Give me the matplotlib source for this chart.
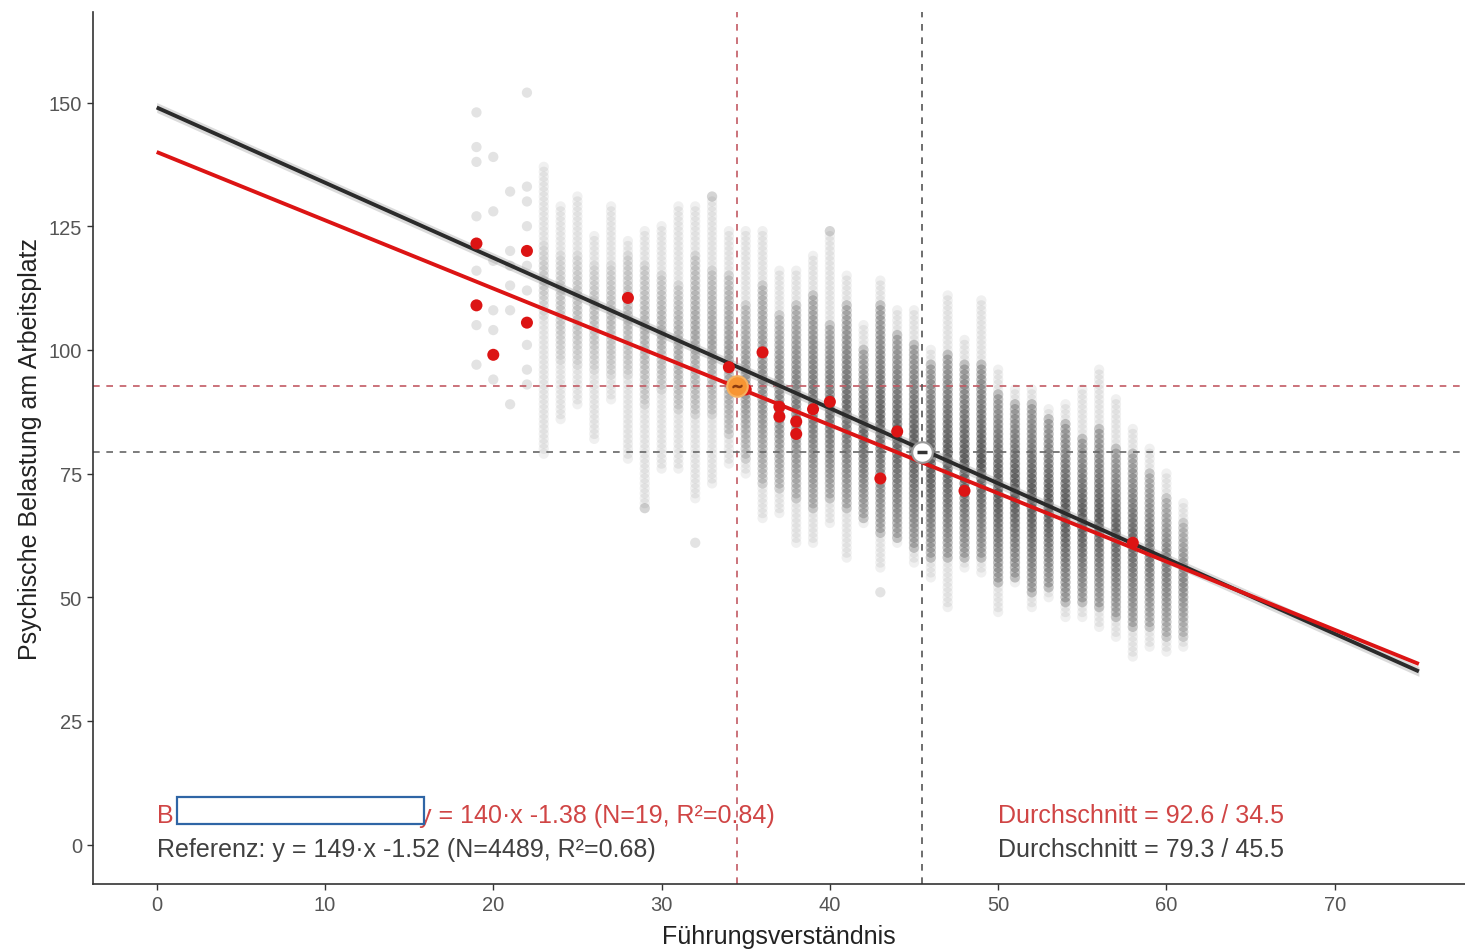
import numpy as np
import matplotlib
matplotlib.use("Agg")
import matplotlib.pyplot as plt
from matplotlib.patches import Rectangle

plt.rcParams['font.family'] = ['Liberation Sans', 'DejaVu Sans']

# ---------------- data ----------------
# reference sample: columns at integer x, read extent (lo..hi) and dense core (core_lo..core_hi)
col_x = [23, 24, 25, 26, 27, 28, 29, 30, 31, 32, 33, 34, 35, 36, 37, 38, 39, 40, 41, 42,
         43, 44, 45, 46, 47, 48, 49, 50, 51, 52, 53, 54, 55, 56, 57, 58, 59, 60, 61]
col_lo = [79, 86, 89, 82, 90, 78, 68, 76, 76, 70, 73, 77, 75, 66, 67, 61, 61, 65, 58, 65,
          56, 61, 57, 54, 48, 56, 55, 47, 53, 48, 50, 46, 46, 44, 42, 38, 40, 39, 40]
col_hi = [137, 129, 131, 123, 129, 122, 124, 125, 129, 129, 131, 124, 124, 124, 116, 116, 119, 124, 115, 105,
          114, 108, 108, 100, 111, 102, 110, 96, 92, 92, 88, 89, 92, 96, 90, 84, 80, 75, 69]
core_lo = [107, 98, 97, 96, 95, 95, 89, 92, 88, 87, 87, 83, 78, 73, 72, 70, 68, 70, 68, 66,
           63, 62, 60, 58, 58, 58, 58, 53, 54, 51, 52, 49, 49, 48, 46, 44, 44, 42, 42]
core_hi = [121, 119, 119, 117, 117, 119, 117, 115, 113, 119, 116, 115, 109, 113, 107, 109, 111, 105, 109, 100,
           109, 103, 101, 97, 99, 97, 97, 91, 89, 89, 86, 85, 82, 84, 80, 79, 75, 70, 65]
core_alpha = [0.06, 0.07, 0.08, 0.08, 0.09, 0.10, 0.11, 0.12, 0.13, 0.14, 0.15, 0.17, 0.19, 0.21, 0.23, 0.25, 0.27, 0.29, 0.30, 0.31,
              0.32, 0.33, 0.34, 0.35, 0.35, 0.35, 0.36, 0.36, 0.36, 0.36, 0.36, 0.36, 0.35, 0.34, 0.33, 0.31, 0.28, 0.25, 0.22]

# sparse reference points (left tail and isolated dots)
sparse_x = [19, 19, 19, 19, 19, 19, 19, 20, 20, 20, 20, 20, 20, 21, 21, 21, 21, 21, 21,
            22, 22, 22, 22, 22, 22, 22, 22, 22, 29, 32, 43, 33, 40]
sparse_y = [148, 141, 138, 127, 116, 105, 97, 139, 128, 118, 108, 104, 94, 132, 120, 117, 113, 108, 89,
            152, 133, 130, 125, 117, 112, 101, 96, 93, 68, 61, 51, 131, 124]

# company sample (red points)
firm_x = [19, 19, 20, 22, 22, 28, 34, 35, 36, 37, 37, 38, 38, 39, 40, 43, 44, 48, 58]
firm_y = [121.5, 109, 99, 120, 105.5, 110.5, 96.5, 92, 99.5, 88.5, 86.5, 85.5, 83, 88, 89.5, 74, 83.5, 71.5, 61]

# regression lines (intercept, slope) and means (y / x)
ref_int, ref_slope = 149, -1.52
firm_int, firm_slope = 140, -1.38
line_x = [0, 75]
firm_mean_x, firm_mean_y = 34.5, 92.6
ref_mean_x, ref_mean_y = 45.5, 79.3

xticks = [0, 10, 20, 30, 40, 50, 60, 70]
yticks = [0, 25, 50, 75, 100, 125, 150]
xlabel = "Führungsverständnis"
ylabel = "Psychische Belastung am Arbeitsplatz"
firm_label = "y = 140·x -1.38 (N=19, R²=0.84)"
ref_label = "Referenz: y = 149·x -1.52 (N=4489, R²=0.68)"
firm_mean_label = "Durchschnitt = 92.6 / 34.5"
ref_mean_label = "Durchschnitt = 79.3 / 45.5"

# ---------------- figure ----------------
W, H = 1465, 953
fig = plt.figure(figsize=(W / 100, H / 100), dpi=100)
ax = fig.add_axes([93 / W, 1 - 885 / H, (W - 93) / W, (885 - 13) / H])
ax.set_xlim(-3.785, 77.74)
ax.set_ylim(-7.98, 168.3)

# reference cloud (alpha shading of each column's dense core, darkest at its middle)
px, py, pa = [], [], []
for x, lo, hi, clo, chi, ca in zip(col_x, col_lo, col_hi, core_lo, core_hi, core_alpha):
    for y in range(lo, hi + 1):
        px.append(x); py.append(y); pa.append(0.06)
    mid = (clo + chi) / 2.0
    half = max((chi - clo) / 2.0, 1.0)
    for y in range(clo, chi + 1):
        px.append(x); py.append(y); pa.append(ca * (1 - 0.55 * abs(y - mid) / half))
for x, y in zip(sparse_x, sparse_y):
    px.append(x); py.append(y); pa.append(0.11)
cols = np.zeros((len(px), 4))
cols[:, 3] = pa
ax.scatter(px, py, s=55, c=cols, edgecolors='none', zorder=1)

# mean guide lines
ax.axvline(firm_mean_x, color='#c25a63', lw=1.2, ls=(0, (4, 4)), zorder=2)
ax.axhline(firm_mean_y, color='#c25a63', lw=1.2, ls=(0, (4, 4)), zorder=2)
ax.axvline(ref_mean_x, color='#555555', lw=1.2, ls=(0, (4, 4)), zorder=2)
ax.axhline(ref_mean_y, color='#666666', lw=1.2, ls=(0, (4, 4)), zorder=2)

# regression lines
lx = np.array(line_x, dtype=float)
ref_y = ref_int + ref_slope * lx
firm_y_line = firm_int + firm_slope * lx
ax.fill_between(lx, ref_y - 1.0, ref_y + 1.0, color='#999999', alpha=0.35, lw=0, zorder=3)
ax.plot(lx, ref_y, color='#2b2b2b', lw=2.8, solid_capstyle='butt', zorder=4)
ax.plot(lx, firm_y_line, color='#dc1414', lw=2.8, solid_capstyle='butt', zorder=4)

# firm points
ax.scatter(firm_x, firm_y, s=75, color='#dc1414', edgecolors='none', zorder=5)

# mean markers
ax.scatter([firm_mean_x], [firm_mean_y], s=220, color='#f79533', edgecolors='#f5b060',
           linewidths=1.5, zorder=6)
ax.scatter([firm_mean_x], [firm_mean_y], s=40, marker='$\\sim$', color='#8a3a10', zorder=7)
ax.scatter([ref_mean_x], [ref_mean_y], s=220, color='white', edgecolors='#9a9a9a',
           linewidths=1.5, zorder=6)
ax.scatter([ref_mean_x], [ref_mean_y], s=60, marker='_', color='#333333', linewidths=2.5, zorder=7)

# annotations
red_txt = '#d04545'
grey_txt = '#404040'
fs = 18
ax.text(0, 4.5, "B", color=red_txt, fontsize=fs, ha='left', va='baseline', zorder=8)
ax.text(15.6, 4.5, firm_label, color=red_txt, fontsize=fs, ha='left', va='baseline', zorder=8)
ax.text(0, -2.3, ref_label, color=grey_txt, fontsize=fs, ha='left', va='baseline', zorder=8)
ax.text(50, 4.5, firm_mean_label, color=red_txt, fontsize=fs, ha='left', va='baseline', zorder=8)
ax.text(50, -2.3, ref_mean_label, color=grey_txt, fontsize=fs, ha='left', va='baseline', zorder=8)
ax.add_patch(Rectangle((1.2, 4.1), 14.7, 5.5, facecolor='white', edgecolor='#2f65a5',
                       linewidth=1.6, zorder=9))

# axes styling
for s in ['top', 'right']:
    ax.spines[s].set_visible(False)
for s in ['left', 'bottom']:
    ax.spines[s].set_color('#333333')
    ax.spines[s].set_linewidth(1.2)
ax.set_xticks(xticks)
ax.set_yticks(yticks)
ax.tick_params(axis='both', colors='#333333', length=4.5, width=1.0, labelsize=14.5,
               labelcolor='#555555', pad=3.5)
ax.set_xlabel(xlabel, fontsize=18, color='#222222', labelpad=7)
ax.set_ylabel(ylabel, fontsize=18, color='#222222', labelpad=5)

fig.savefig("out.png", dpi=100)
